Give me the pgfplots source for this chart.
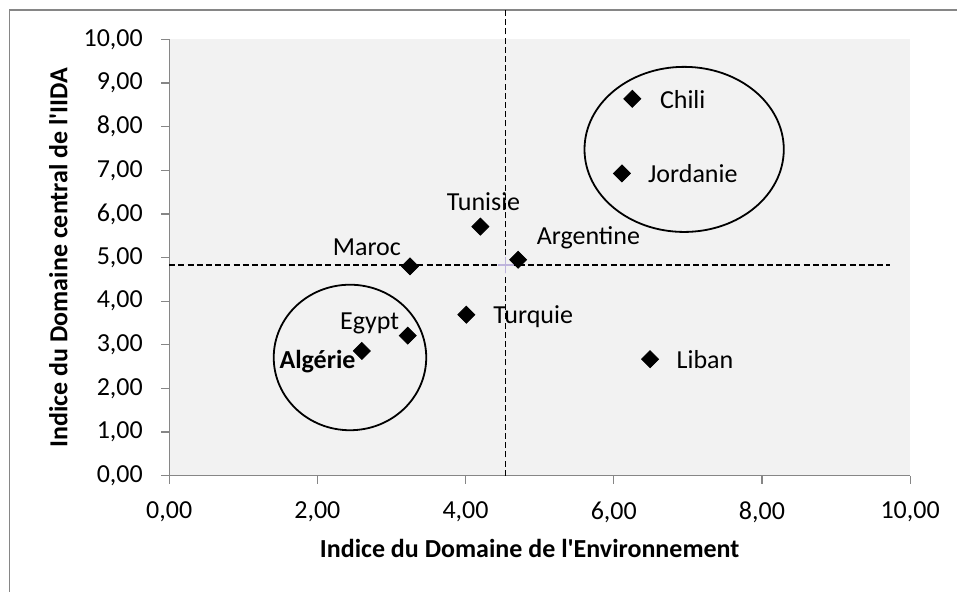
\documentclass[border=0pt]{standalone}
\usepackage{fontspec}
\setmainfont{Carlito}[Ligatures=TeXOff]
\usepackage{pgfplots}
\pgfplotsset{compat=1.18}

\definecolor{plotbg}{RGB}{242,242,242}
\definecolor{axisgray}{RGB}{134,134,134}
\definecolor{meanmark}{RGB}{190,180,220}

\newcommand{\lbl}{\fontsize{13}{15}\selectfont}

\begin{document}
\begin{tikzpicture}
% page = 957x592 px, 1 px = 0.5pt, axis box lower left at (0,0)
\useasboundingbox (-84.65pt,-58pt) rectangle (394.15pt,238pt);
\draw[axisgray, line width=0.7pt] (-79.9pt,-70pt) |- (400pt,233pt);

\begin{axis}[
    scale only axis,
    width=370.7pt, height=218.25pt,
    xmin=0, xmax=10, ymin=0, ymax=10,
    xtick={0,2,...,10},
    ytick={0,1,...,10},
    axis background/.style={fill=plotbg},
    axis x line*=bottom,
    axis y line*=left,
    axis line style={draw=axisgray, line width=0.6pt, -},
    tick align=outside,
    major tick length=4pt,
    tick style={draw=axisgray, line width=0.6pt},
    ticklabel style={font=\lbl, text=black},
    /pgf/number format/.cd, fixed, fixed zerofill, precision=2, use comma, assume math mode=true,
    /pgfplots/.cd,
    yticklabel style={anchor=east, inner sep=0pt, xshift=-9pt},
    xticklabel style={anchor=north, inner sep=0pt, yshift=-9pt},
    xlabel={\bfseries Indice du Domaine de l'Environnement},
    ylabel={\bfseries Indice du Domaine central de l'IIDA},
    xlabel style={font=\lbl, at={(axis description cs:0.4865,0)}, anchor=base, yshift=-41pt},
    ylabel style={font=\lbl, at={(axis description cs:0,0.5)}, anchor=center, yshift=55.5pt},
    clip=false,
]
% dashed reference lines (means)
\draw[black, line width=0.6pt, dash pattern=on 3pt off 1.6pt] (axis cs:0,4.83) -- (axis cs:9.73,4.83);
\draw[black, line width=0.6pt, dash pattern=on 3pt off 1.6pt] (axis cs:4.54,0) -- (axis cs:4.54,10.68);

\addplot[only marks, mark=+, mark size=4pt, color=meanmark, line width=0.8pt] coordinates {(4.54,4.83)};

% groups
\draw[black, line width=0.9pt] (axis cs:6.95,7.48) ellipse [x radius=49.85pt, y radius=41.3pt];
\draw[black, line width=0.9pt] (axis cs:2.44,2.71) ellipse [x radius=38.15pt, y radius=36.4pt];

\addplot[only marks, mark=square*, mark size=3pt, mark options={rotate=45, fill=black, draw=black}]
coordinates {
    (6.25,8.64)  % Chili
    (6.11,6.93)  % Jordanie
    (4.20,5.71)  % Tunisie
    (4.71,4.95)  % Argentine
    (3.25,4.80)  % Maroc
    (4.01,3.69)  % Turquie
    (3.22,3.21)  % Egypt
    (2.60,2.86)  % Algerie
    (6.49,2.67)  % Liban
};

\begin{scope}[every node/.style={font=\lbl, anchor=base west, inner sep=0pt}]
\node at (axis cs:6.619,8.408) {Chili};
\node at (axis cs:6.459,6.720) {Jordanie};
\node at (axis cs:3.742,6.071) {Tunisie};
\node at (axis cs:4.956,5.308) {Argentine};
\node at (axis cs:2.204,5.040) {Maroc};
\node at (axis cs:4.370,3.482) {Turquie};
\node at (axis cs:2.302,3.361) {Egypt};
\node at (axis cs:1.484,2.467) {\bfseries Algérie};
\node at (axis cs:6.844,2.467) {Liban};
\end{scope}
\end{axis}
\end{tikzpicture}
\end{document}
